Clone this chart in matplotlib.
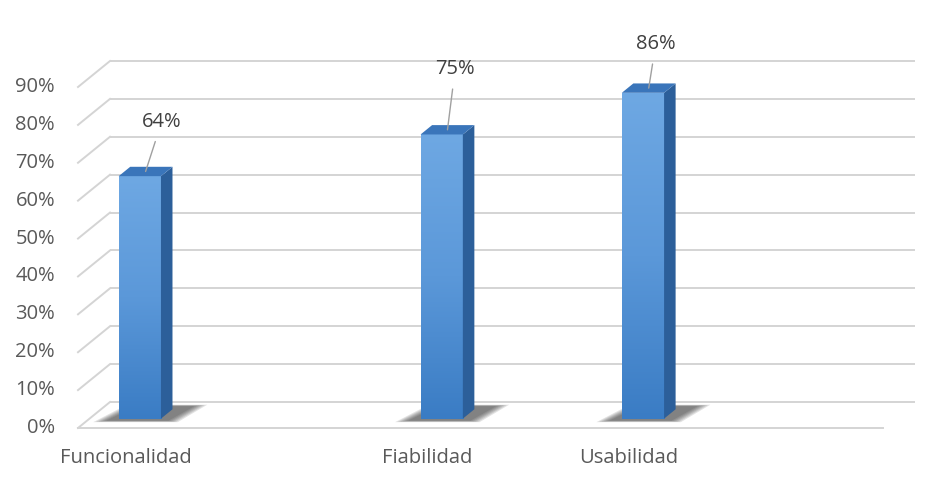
import numpy as np
import matplotlib.pyplot as plt
from matplotlib.patches import Polygon
from matplotlib.colors import LinearSegmentedColormap

# Chart data
categories = ["Funcionalidad", "", "", "Fiabilidad", "", "Usabilidad", "", ""]
values = [64, np.nan, np.nan, 75, np.nan, 86, np.nan, np.nan]
y_ticks = [0, 10, 20, 30, 40, 50, 60, 70, 80, 90]
y_tick_labels = [f"{t}%" for t in y_ticks]

# Per-label offsets (points) for the callout data labels
label_offsets = {0: (11.5, 35.5), 3: (5.5, 43.5), 5: (5, 31.5)}

plt.rcParams['font.family'] = ['Open Sans', 'DejaVu Sans']

W, H = 939, 493
fig = plt.figure(figsize=(W / 100, H / 100), dpi=100)
ax = fig.add_axes([0, 0, 1, 1])
ax.axis('off')

n = len(categories)
ymax = y_ticks[-1]
# pixel scale of the front plane
ox, oy = 78, 428              # front-left corner of floor (px from left / top)
front_w, front_h = 805, 341   # width of floor front edge, height of 0..ymax
sx = n / front_w
sy = ymax / front_h
xlim = (-0.5 - ox * sx, -0.5 + (W - ox) * sx)
ylim = (-(H - oy) * sy, oy * sy)

# oblique depth vector (front -> back)
DX, DY = 32 * sx, 26 * sy

def proj(x, y, d):
    return (x + d * DX, y + d * DY)

grid_c = '#d4d4d4'
text_c = '#595959'
x_left, x_right = -0.5, n - 0.5

# back wall gridlines and side wall slants
for t in y_ticks:
    p0 = proj(x_left, t, 1)
    p1 = proj(x_right, t, 1)
    ax.plot([p0[0], p1[0]], [p0[1], p1[1]], color=grid_c, lw=1.4, zorder=1,
            solid_capstyle='butt')
    q0 = proj(x_left, t, 0)
    ax.plot([q0[0], p0[0]], [q0[1], p0[1]], color=grid_c, lw=1.4, zorder=1)
# floor front edge
ax.plot([x_left, x_right], [0, 0], color=grid_c, lw=1.4, zorder=1)

# tick labels
for t, lab in zip(y_ticks, y_tick_labels):
    ax.annotate(lab, (x_left, t), xytext=(-16.5, 0), textcoords='offset points',
                ha='right', va='center', fontsize=14.5, color=text_c)

# category labels
for i, c in enumerate(categories):
    if c:
        ax.annotate(c, (i, 0), xytext=(-2, -21.5), textcoords='offset points',
                    ha='center', va='center', fontsize=14.5, color=text_c)

# bars
bar_w = 0.42
d0, d1 = 0.36, 0.72
grad = LinearSegmentedColormap.from_list('face', ['#3a7cc4', '#5b98d9', '#6ea8e3'])

for i, v in enumerate(values):
    if np.isnan(v):
        continue
    x0, x1 = i - bar_w / 2, i + bar_w / 2

    # soft shadow on the floor, stacked translucent layers
    layers = 6
    for k in range(layers):
        g = 0.11 * (1 - k / (layers - 1))
        sh = [proj(x0 - 0.10 - g, 0, d0 - 0.08 - g * 0.5),
              proj(x1 + 0.10 + g, 0, d0 - 0.08 - g * 0.5),
              proj(x1 + 0.18 + g, 0, d1 + 0.12 + g * 0.5),
              proj(x0 + 0.02 - g, 0, d1 + 0.12 + g * 0.5)]
        ax.add_patch(Polygon(sh, closed=True, facecolor='#262626', alpha=0.13,
                             edgecolor='none', zorder=2))

    # front face with vertical gradient
    fx0, fy0 = proj(x0, 0, d0)
    fx1, fy1 = proj(x1, v, d0)
    grad_img = np.linspace(0, 1, 256).reshape(-1, 1)
    ax.imshow(grad_img, cmap=grad, extent=[fx0, fx1, fy0, fy1], origin='lower',
              aspect='auto', zorder=4, interpolation='bilinear')

    # right side face
    side = [proj(x1, 0, d0), proj(x1, 0, d1), proj(x1, v, d1), proj(x1, v, d0)]
    ax.add_patch(Polygon(side, closed=True, facecolor='#2c5f9a', edgecolor='none', zorder=4))
    # top face
    top = [proj(x0, v, d0), proj(x0, v, d1), proj(x1, v, d1), proj(x1, v, d0)]
    ax.add_patch(Polygon(top, closed=True, facecolor='#3a75ba', edgecolor='none', zorder=5))

    # callout label with leader line
    cx, cy = proj(i, v, (d0 + d1) / 2)
    off = label_offsets.get(i, (8, 35))
    ax.annotate(f"{v:.0f}%", (cx, cy), xytext=off, textcoords='offset points',
                ha='center', va='center', fontsize=14.5, color='#404040', zorder=6,
                arrowprops=dict(arrowstyle='-', color='#a0a0a0', lw=1.0,
                                shrinkA=5, shrinkB=0))

ax.set_xlim(*xlim)
ax.set_ylim(*ylim)

fig.savefig('out.png', dpi=100, facecolor='white')
